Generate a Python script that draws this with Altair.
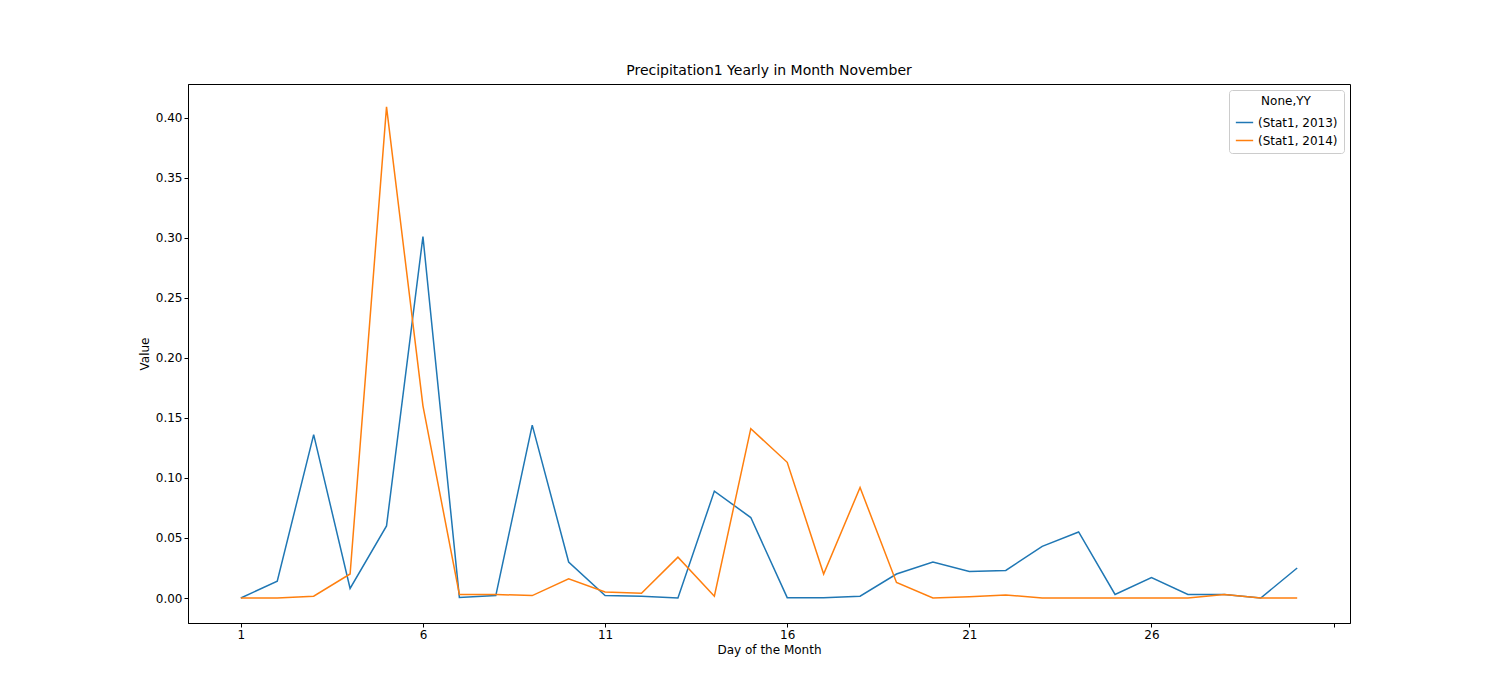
import altair as alt
import pandas as pd

days = list(range(1, 31))
stat_2013 = [0, 0.014, 0.136, 0.008, 0.06, 0.301, 0.0005, 0.002, 0.144, 0.03,
             0.002, 0.0015, 0, 0.089, 0.067, 0.0003, 0.0003, 0.0015, 0.02, 0.03,
             0.022, 0.023, 0.043, 0.055, 0.003, 0.017, 0.003, 0.003, 0, 0.025]
stat_2014 = [0, 0, 0.0015, 0.02, 0.409, 0.16, 0.003, 0.003, 0.002, 0.016,
             0.005, 0.004, 0.034, 0.0015, 0.141, 0.113, 0.02, 0.092, 0.013, 0,
             0.001, 0.0025, 0, 0, 0, 0, 0, 0.003, 0, 0]
series = ["(Stat1, 2013)", "(Stat1, 2014)"]

rows = []
for d, a, b in zip(days, stat_2013, stat_2014):
    rows.append({"day": d, "value": a, "series": series[0]})
    rows.append({"day": d, "value": b, "series": series[1]})
df = pd.DataFrame(rows)

chart = alt.Chart(df).mark_line(strokeWidth=1.5).encode(
    x=alt.X("day:Q", title="Day of the Month",
            scale=alt.Scale(domain=[-0.45, 31.45], nice=False, zero=False),
            axis=alt.Axis(values=[1, 6, 11, 16, 21, 26, 31], grid=False,
                          labelExpr="datum.value == 31 ? '' : datum.value")),
    y=alt.Y("value:Q", title="Value",
            scale=alt.Scale(domain=[-0.0208, 0.428], nice=False, zero=False),
            axis=alt.Axis(values=[0, 0.05, 0.1, 0.15, 0.2, 0.25, 0.3, 0.35, 0.4],
                          format=".2f", grid=False)),
    color=alt.Color("series:N", title="None,YY",
                    scale=alt.Scale(domain=series, range=["#1f77b4", "#ff7f0e"]),
                    legend=alt.Legend(orient="top-right", symbolType="stroke",
                                      strokeColor="#cccccc", fillColor="white",
                                      padding=6, cornerRadius=3, titleAnchor="middle",
                                      titleFontWeight="normal", titleFontSize=12,
                                      labelFontSize=12, symbolSize=300, offset=6))
).properties(
    width=1162, height=539,
    title=alt.TitleParams("Precipitation1 Yearly in Month November", fontSize=14,
                          fontWeight="normal", offset=6),
    autosize=alt.AutoSizeParams(type="none"),
    padding={"left": 180, "top": 76, "right": 142, "bottom": 69},
).configure(font="DejaVu Sans").configure_view(stroke="black", strokeWidth=1
).configure_axis(domainColor="black", tickColor="black", labelColor="black",
                 titleColor="black", labelFontSize=12, titleFontSize=12,
                 titleFontWeight="normal", tickSize=4)

chart.save("out.html", embed_options={"renderer": "svg", "actions": False})
